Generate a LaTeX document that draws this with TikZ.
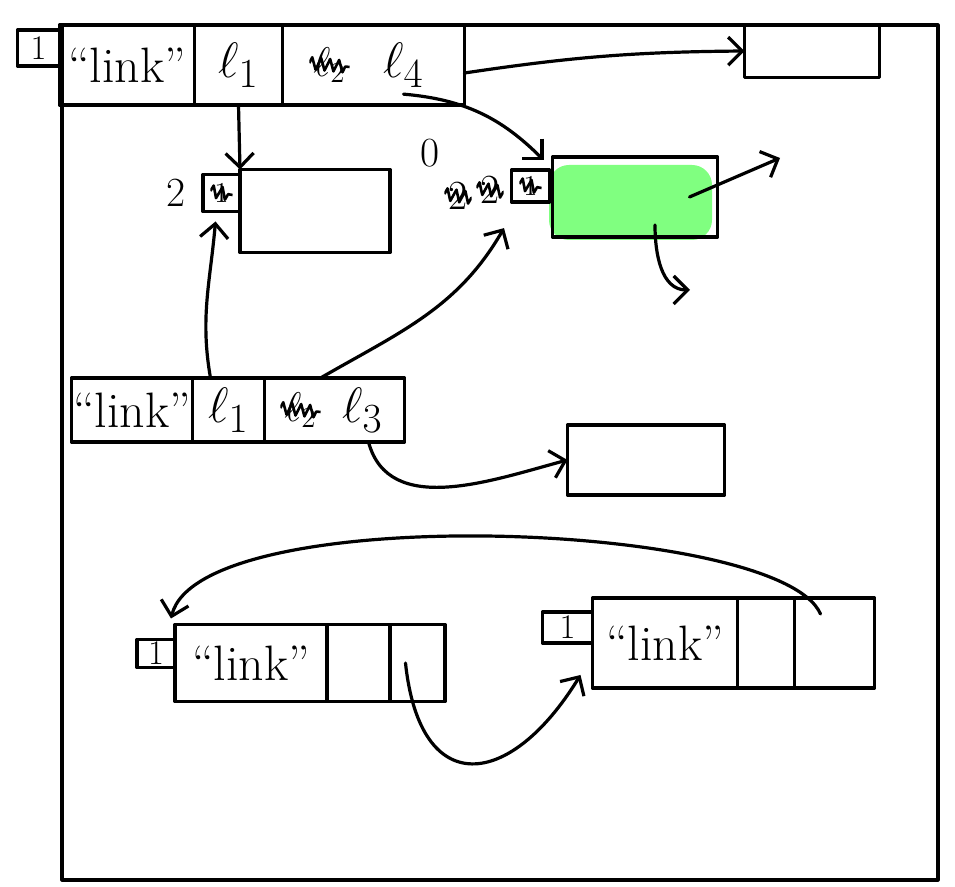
\documentclass[tikz,border=0pt]{standalone}
\usepackage{amsmath}
\usetikzlibrary{arrows.meta, positioning, calc, decorations.pathmorphing}
\definecolor{blob}{HTML}{80FF80}

\tikzset{
  ink/.style={line width=1.6pt, line cap=round, line join=round},
  cell/.style={draw, ink, inner sep=0pt, outer sep=0pt, font=\Huge},
  tag/.style={draw, ink, inner sep=0pt, outer sep=0pt, font=\LARGE},
  ptr/.style={ink, -{Straight Barb[length=7pt, width=14pt]}},
  crossed/.style={inner sep=2pt, font=\huge,
    path picture={\draw[line width=1.3pt, line join=round, decorate,
        decoration={zigzag, segment length=4.5pt, amplitude=3pt}]
      ([yshift=1pt]path picture bounding box.west) -- ([yshift=-1pt]path picture bounding box.east);}},
}

\begin{document}
\begin{tikzpicture}[x=0.5pt, y=-0.5pt]
  \useasboundingbox (0,0) rectangle (955,887);

  % Frame
  \draw[ink] (62,25) rectangle (938,880);

  % Top record
  \node[cell, minimum width=67.5pt, minimum height=40pt] (nameA) at (127,65) {``link''};
  \node[cell, minimum width=44pt, minimum height=40pt, right=0pt of nameA] (fstA) {$\ell_1$};
  \node[cell, minimum width=91pt, minimum height=40pt, right=0pt of fstA] (sndA) {};
  \node[tag, minimum width=21pt, minimum height=18pt, anchor=north east] (tagA)
    at ([yshift=-2.5pt]nameA.north west) {1};
  \node[crossed] (oldA) at ([xshift=-22pt]sndA.center) {$\ell_2$};
  \node[font=\Huge] (newA) at ([xshift=15pt]sndA.center) {$\ell_4$};

  % Box after the top record
  \node[cell, minimum width=67.5pt, minimum height=26.5pt] (boxC) at (812,51) {};

  % Box with count 2
  \node[cell, minimum width=75pt, minimum height=41.5pt] (boxB) at (315,211) {};
  \node[tag, minimum width=18.5pt, minimum height=18.5pt, anchor=north east] (tagB)
    at ([yshift=-2.5pt]boxB.north west) {};
  \node[crossed, font=\Large] (oldB) at (tagB) {1};
  \node[font=\huge, left=5pt of tagB] (cntB) {2};

  % Green box
  \fill[blob, rounded corners=10pt] (549,165) rectangle (712,240);
  \node[cell, minimum width=82.5pt, minimum height=40pt] (boxG) at (635,197) {};
  \node[tag, minimum width=19pt, minimum height=16pt, anchor=north east] (tagG)
    at ([xshift=-1.5pt, yshift=-6.5pt]boxG.north west) {};
  \node[crossed, font=\Large] (oldG) at (tagG) {1};
  \node[crossed] (cntG1) at (458,196) {2};
  \node[crossed] (cntG2) at (490,190) {2};
  \node[font=\huge] (zeroG) at (430,153) {0};
  \coordinate (outG1) at (780,158);
  \coordinate (outG2) at (690,290);

  % Middle record
  \node[cell, minimum width=60.5pt, minimum height=32pt] (nameM) at (132,410) {``link''};
  \node[cell, minimum width=36pt, minimum height=32pt, right=0pt of nameM] (fstM) {$\ell_1$};
  \node[cell, minimum width=70pt, minimum height=32pt, right=0pt of fstM] (sndM) {};
  \node[crossed] (oldM) at ([xshift=-17pt]sndM.center) {$\ell_2$};
  \node[font=\Huge] (newM) at ([xshift=14pt]sndM.center) {$\ell_3$};

  % Box after the middle record
  \node[cell, minimum width=78.5pt, minimum height=35pt] (boxD) at (646,460) {};

  % Bottom left record
  \node[cell, minimum width=76pt, minimum height=38.5pt] (nameL) at (251,663) {``link''};
  \node[cell, minimum width=31.5pt, minimum height=38.5pt, right=0pt of nameL] (fstL) {};
  \node[cell, minimum width=27.5pt, minimum height=38.5pt, right=0pt of fstL] (sndL) {};
  \node[tag, minimum width=19pt, minimum height=14pt, anchor=north east] (tagL)
    at ([yshift=-7.5pt]nameL.north west) {1};

  % Bottom right record
  \node[cell, minimum width=72.5pt, minimum height=45pt] (nameR) at (665,643) {``link''};
  \node[cell, minimum width=28.5pt, minimum height=45pt, right=0pt of nameR] (fstR) {};
  \node[cell, minimum width=40pt, minimum height=45pt, right=0pt of fstR] (sndR) {};
  \node[tag, minimum width=25pt, minimum height=15.5pt, anchor=north east] (tagR)
    at ([yshift=-7pt]nameR.north west) {1};

  % Pointers
  \draw[ptr] ([yshift=-4pt]sndA.east) to[bend left=4] (boxC.west);
  \draw[ptr] (fstA.south) -- (boxB.north west);
  \draw[ptr] (newA.south) to[out=-5, in=135] ([xshift=-3pt, yshift=5pt]tagG.north east);
  \draw[ptr] ([xshift=-14pt]boxG.east) -- (outG1);
  \draw[ptr] ([xshift=10pt, yshift=6pt]boxG.south) to[out=-90, in=180] (outG2);
  \draw[ptr] ([xshift=-9pt]fstM.north) to[out=100, in=-95] ([xshift=-3pt, yshift=-5pt]tagB.south);
  \draw[ptr] ([xshift=-7pt]sndM.north) to[out=30, in=-120] ([xshift=7pt, yshift=-10pt]cntG2.south);
  \draw[ptr] ([xshift=17pt]sndM.south) to[out=-75, in=195] (boxD.west);
  \draw[ptr] ([xshift=-7pt, yshift=-8pt]sndR.north)
    .. controls (780,520) and (200,500) .. ([xshift=-2pt, yshift=3pt]nameL.north west);
  \draw[ptr] ([xshift=-6pt]sndL.center)
    .. controls (420,800) and (510,790) .. ([shift={(-6pt,-16pt)}]nameR.west);
\end{tikzpicture}
\end{document}
